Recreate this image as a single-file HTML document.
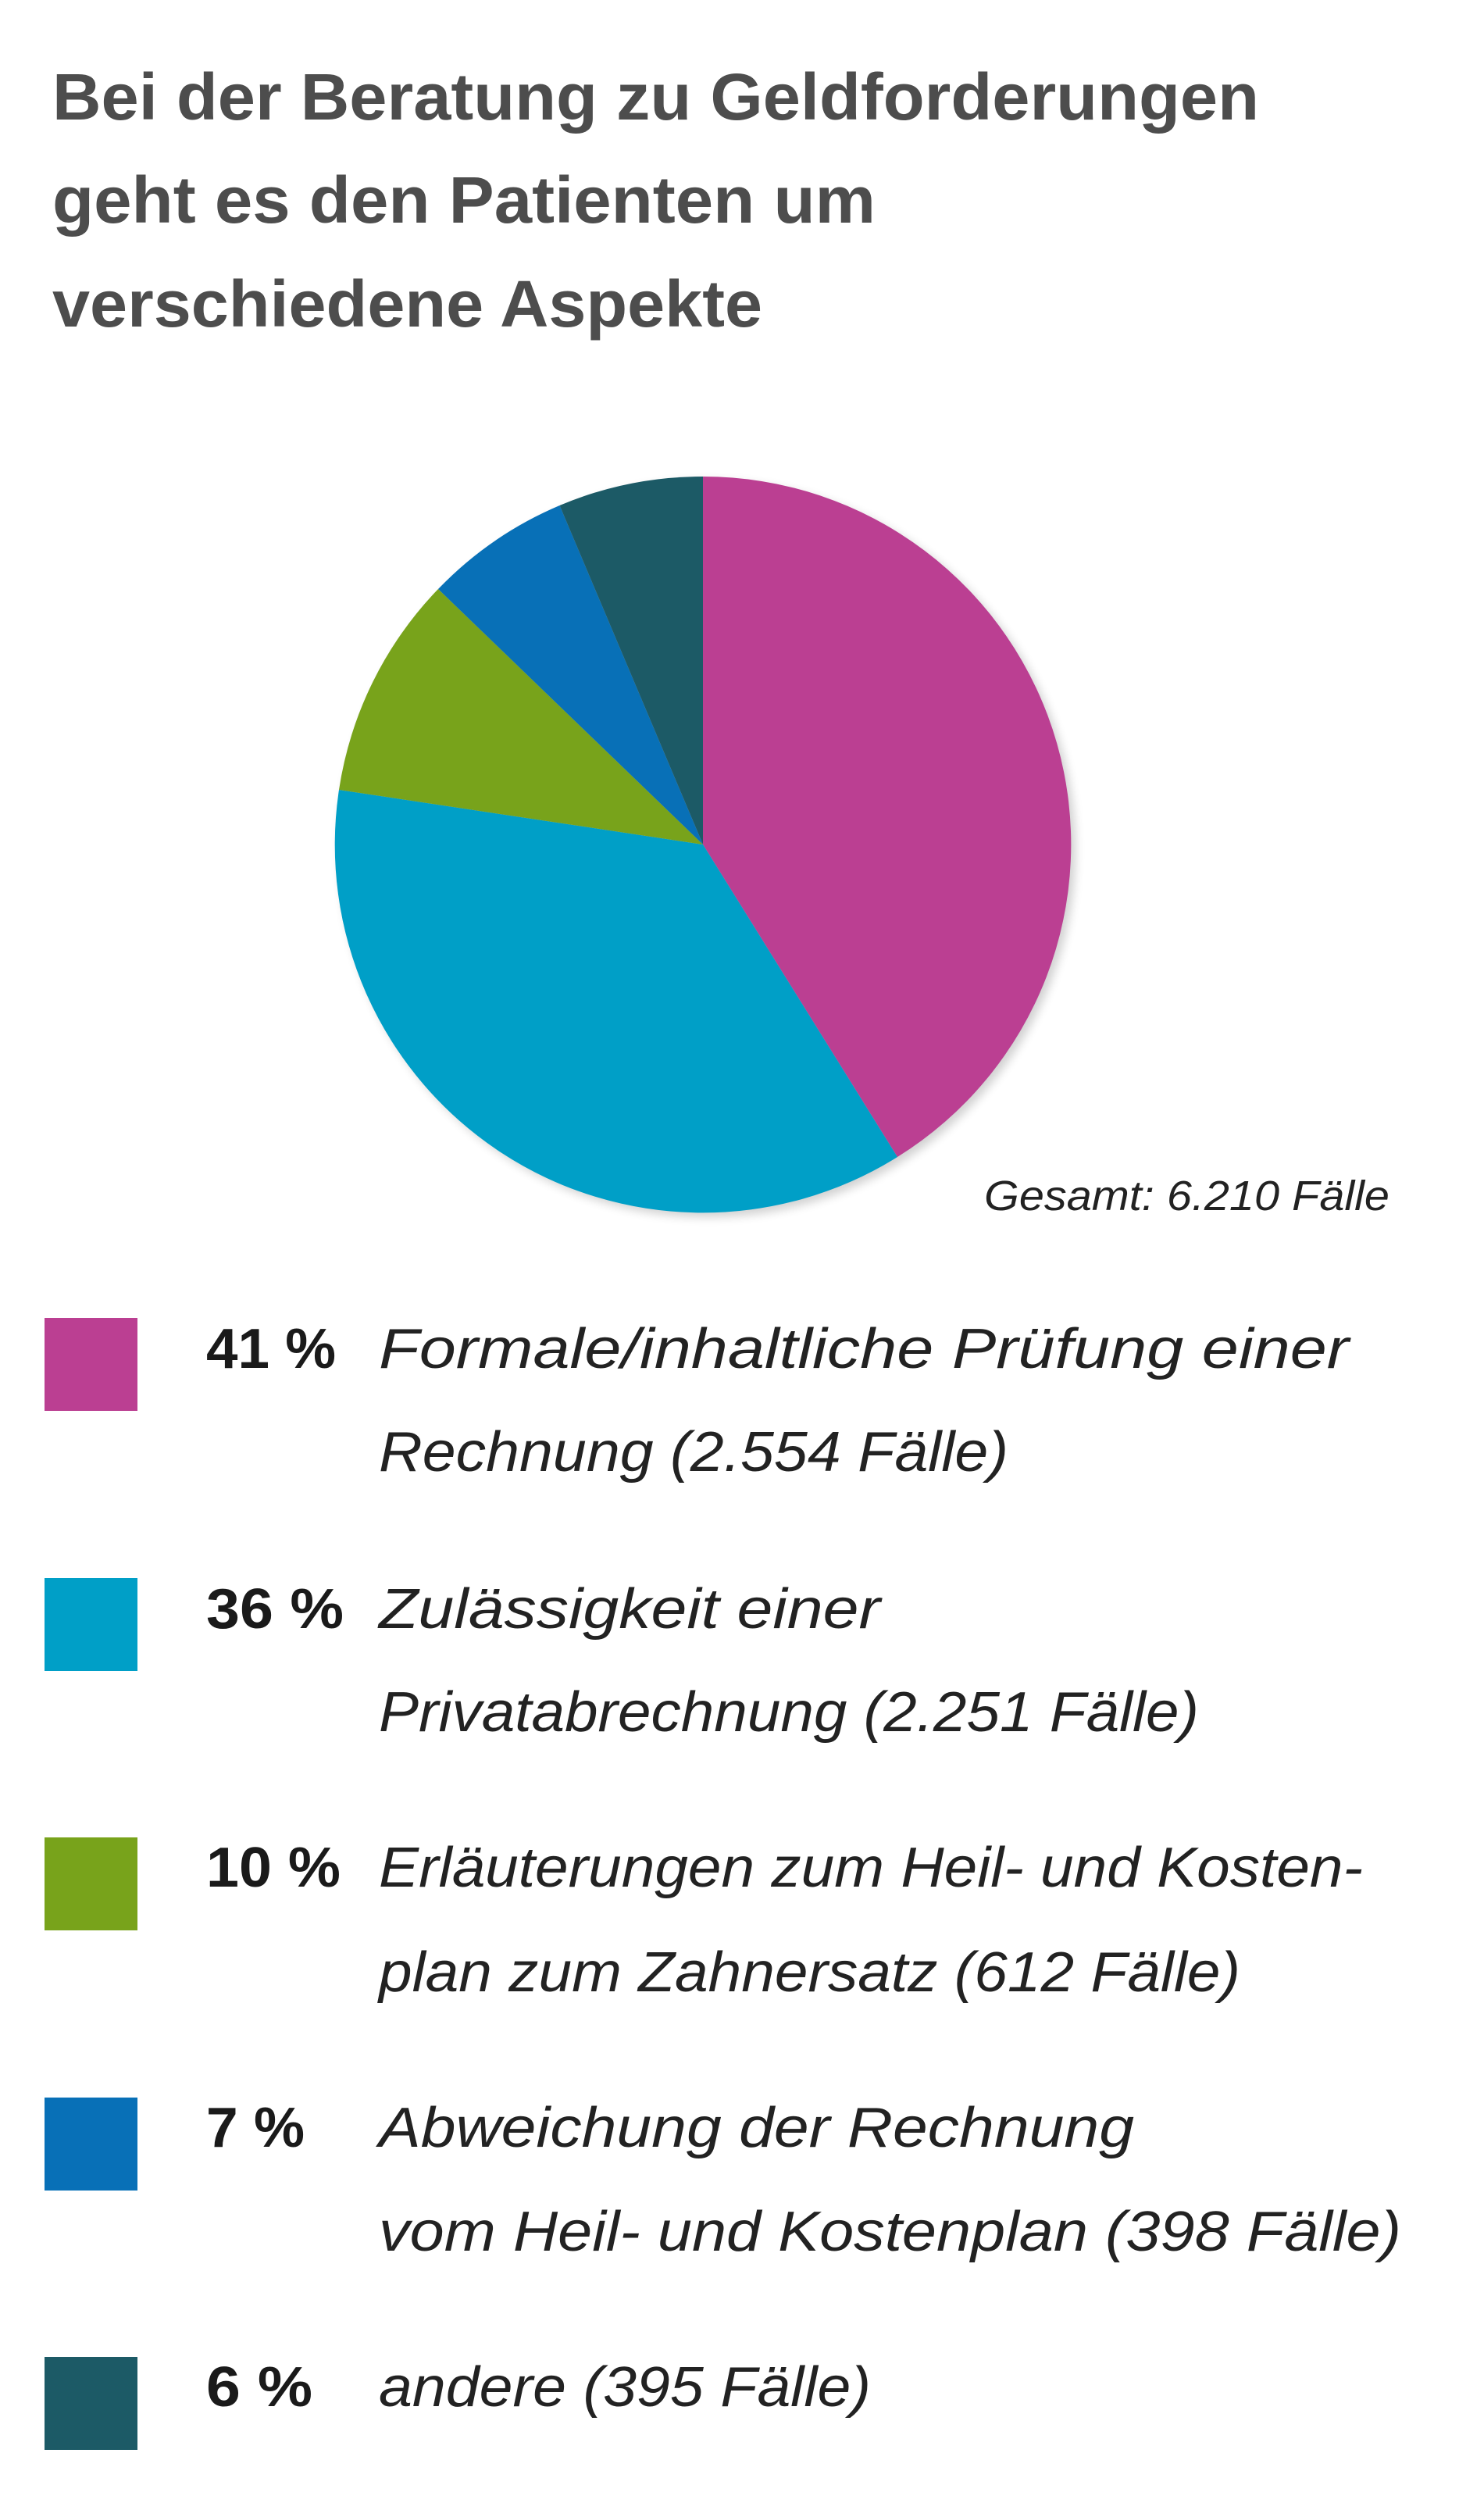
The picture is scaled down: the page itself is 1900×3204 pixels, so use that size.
<!DOCTYPE html>
<html><head><meta charset="utf-8"><style>
html,body{margin:0;padding:0;background:#fff;}
svg{display:block;}
.t{font-family:"Liberation Sans",sans-serif;font-weight:bold;font-size:84px;fill:#4d4d4d;}
.p{font-family:"Liberation Sans",sans-serif;font-weight:bold;font-size:72px;fill:#1a1a1a;}
.l{font-family:"Liberation Sans",sans-serif;font-style:italic;font-size:72px;fill:#222;}
.g{font-family:"Liberation Sans",sans-serif;font-style:italic;font-size:54px;fill:#222;}
</style></head><body>
<svg width="1900" height="3204" viewBox="0 0 1900 3204" xmlns="http://www.w3.org/2000/svg">
<defs><filter id="sh" x="-10%" y="-10%" width="120%" height="120%"><feGaussianBlur stdDeviation="6"/></filter></defs>
<text class="t" x="67" y="153" textLength="1545" lengthAdjust="spacingAndGlyphs">Bei der Beratung zu Geldforderungen</text>
<text class="t" x="67" y="285" textLength="1054" lengthAdjust="spacingAndGlyphs">geht es den Patienten um</text>
<text class="t" x="67" y="418" textLength="909" lengthAdjust="spacingAndGlyphs">verschiedene Aspekte</text>

<circle cx="906" cy="1087" r="471" fill="#000" opacity="0.18" filter="url(#sh)"/>
<path d="M900,1081 L900,610 A471,471 0 0 1 1149,1481 Z" fill="#bb3f92"/>
<path d="M900,1081 L1149,1481 A471,471 0 0 1 434,1011 Z" fill="#009fc7"/>
<path d="M900,1081 L434,1011 A471,471 0 0 1 561,754 Z" fill="#78a31b"/>
<path d="M900,1081 L561,754 A471,471 0 0 1 716.5,647 Z" fill="#0870b7"/>
<path d="M900,1081 L716.5,647 A471,471 0 0 1 900,610 Z" fill="#1c5a66"/>

<text class="g" x="1260" y="1549" textLength="519" lengthAdjust="spacingAndGlyphs">Gesamt: 6.210 Fälle</text>

<rect x="57" y="1687" width="119" height="119" fill="#bb3f92"/>
<text class="p" x="264" y="1751" textLength="166" lengthAdjust="spacingAndGlyphs">41 %</text>
<text class="l" x="485" y="1751" textLength="1242" lengthAdjust="spacingAndGlyphs">Formale/inhaltliche Prüfung einer</text>
<text class="l" x="485" y="1883" textLength="806" lengthAdjust="spacingAndGlyphs">Rechnung (2.554 Fälle)</text>

<rect x="57" y="2020" width="119" height="119" fill="#009fc7"/>
<text class="p" x="264" y="2084" textLength="176" lengthAdjust="spacingAndGlyphs">36 %</text>
<text class="l" x="485" y="2084" textLength="642" lengthAdjust="spacingAndGlyphs">Zulässigkeit einer</text>
<text class="l" x="485" y="2216" textLength="1050" lengthAdjust="spacingAndGlyphs">Privatabrechnung (2.251 Fälle)</text>

<rect x="57" y="2352" width="119" height="119" fill="#78a31b"/>
<text class="p" x="264" y="2415" textLength="172" lengthAdjust="spacingAndGlyphs">10 %</text>
<text class="l" x="485" y="2415" textLength="1260" lengthAdjust="spacingAndGlyphs">Erläuterungen zum Heil- und Kosten-</text>
<text class="l" x="485" y="2549" textLength="1103" lengthAdjust="spacingAndGlyphs">plan zum Zahnersatz (612 Fälle)</text>

<rect x="57" y="2685" width="119" height="119" fill="#0870b7"/>
<text class="p" x="264" y="2748" textLength="126" lengthAdjust="spacingAndGlyphs">7 %</text>
<text class="l" x="485" y="2748" textLength="967" lengthAdjust="spacingAndGlyphs">Abweichung der Rechnung</text>
<text class="l" x="485" y="2881" textLength="1309" lengthAdjust="spacingAndGlyphs">vom Heil- und Kostenplan (398 Fälle)</text>

<rect x="57" y="3017" width="119" height="119" fill="#1c5a66"/>
<text class="p" x="264" y="3080" textLength="136" lengthAdjust="spacingAndGlyphs">6 %</text>
<text class="l" x="485" y="3080" textLength="630" lengthAdjust="spacingAndGlyphs">andere (395 Fälle)</text>
</svg>
</body></html>
